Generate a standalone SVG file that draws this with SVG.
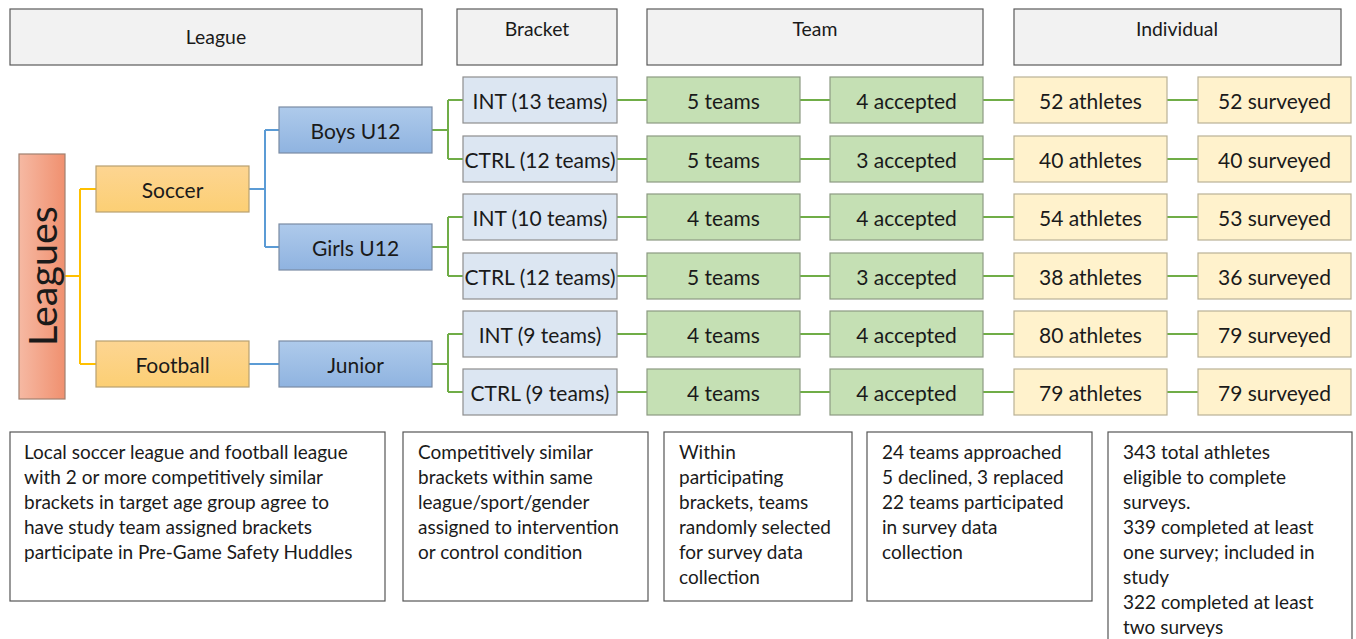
<svg xmlns="http://www.w3.org/2000/svg" width="1356" height="639" viewBox="0 0 1356 639">
  <defs>
    <linearGradient id="gLeagues" x1="0" y1="0" x2="1" y2="0">
      <stop offset="0" stop-color="#f6b9a3"/>
      <stop offset="1" stop-color="#f0906f"/>
    </linearGradient>
    <linearGradient id="gSport" x1="0" y1="0" x2="0" y2="1">
      <stop offset="0" stop-color="#fdd592"/>
      <stop offset="1" stop-color="#fccf74"/>
    </linearGradient>
    <linearGradient id="gDiv" x1="0" y1="0" x2="0" y2="1">
      <stop offset="0" stop-color="#aecaeb"/>
      <stop offset="1" stop-color="#8fb3e0"/>
    </linearGradient>
    <style>
      text { font-family: Lato, "Liberation Sans", sans-serif; fill: #1a1a1a; }
      .hdr rect { fill: #f2f2f2; stroke: #5a5a5a; stroke-width: 1.2; }
      .hdr text { font-size: 19.4px; text-anchor: middle; }
      .n text { font-size: 21px; text-anchor: middle; dominant-baseline: central; }
      .sport { fill: url(#gSport); stroke: #b8a070; stroke-width: 1.2; }
      .div { fill: url(#gDiv); stroke: #7a8ba3; stroke-width: 1.2; }
      .brk { fill: #dce6f2; stroke: #8e8e8e; stroke-width: 1.2; }
      .team { fill: #c5e0b4; stroke: #8c9a82; stroke-width: 1.2; }
      .ind { fill: #fff2cc; stroke: #b9b196; stroke-width: 1.2; }
      .note rect { fill: #ffffff; stroke: #555555; stroke-width: 1.2; }
      .note text { font-size: 19px; }
      .cY { stroke: #ffc000; stroke-width: 2; fill: none; }
      .cB { stroke: #5b9bd5; stroke-width: 2; fill: none; }
      .cG { stroke: #70ad47; stroke-width: 2; fill: none; }
    </style>
  </defs>

  <rect width="1356" height="639" fill="#ffffff"/>

  <!-- column headers -->
  <g id="hdr-league" class="hdr"><rect x="10" y="9" width="412" height="56"/><text x="216" y="44">League</text></g>
  <g id="hdr-bracket" class="hdr"><rect x="457" y="9" width="160" height="56"/><text x="537" y="36">Bracket</text></g>
  <g id="hdr-team" class="hdr"><rect x="647" y="9" width="336" height="56"/><text x="815" y="36">Team</text></g>
  <g id="hdr-individual" class="hdr"><rect x="1014" y="9" width="327" height="56"/><text x="1177" y="36">Individual</text></g>

  <!-- connectors -->
  <g id="connectors">
    <path class="cY" d="M65 276 H80 M80 189 V364 M80 189 H96 M80 364 H96"/>
    <path class="cB" d="M249 189 H265 M265 130 V247 M265 130 H279 M265 247 H279 M249 364 H279"/>
    <path class="cG" d="M432 130 H448 M448 100 V159 M448 100 H463 M448 159 H463"/>
    <path class="cG" d="M432 247 H448 M448 217 V276 M448 217 H463 M448 276 H463"/>
    <path class="cG" d="M432 364 H448 M448 334 V392 M448 334 H463 M448 392 H463"/>
    <path class="cG" d="M617 100 H647 M800 100 H830 M983 100 H1014 M1167 100 H1198"/>
    <path class="cG" d="M617 159 H647 M800 159 H830 M983 159 H1014 M1167 159 H1198"/>
    <path class="cG" d="M617 217 H647 M800 217 H830 M983 217 H1014 M1167 217 H1198"/>
    <path class="cG" d="M617 276 H647 M800 276 H830 M983 276 H1014 M1167 276 H1198"/>
    <path class="cG" d="M617 334 H647 M800 334 H830 M983 334 H1014 M1167 334 H1198"/>
    <path class="cG" d="M617 392 H647 M800 392 H830 M983 392 H1014 M1167 392 H1198"/>
  </g>

  <!-- root -->
  <g id="leagues">
    <rect x="19" y="154" width="46" height="245" fill="url(#gLeagues)" stroke="#a08070" stroke-width="1.2"/>
    <text x="41" y="276" transform="rotate(-90 41 276)" font-size="39.5" text-anchor="middle" dominant-baseline="central">Leagues</text>
  </g>

  <!-- sports -->
  <g id="soccer" class="n"><rect class="sport" x="96" y="166" width="153" height="46"/><text x="172.5" y="189">Soccer</text></g>
  <g id="football" class="n"><rect class="sport" x="96" y="341" width="153" height="46"/><text x="172.5" y="364">Football</text></g>

  <!-- divisions -->
  <g id="boys-u12" class="n"><rect class="div" x="279" y="107" width="153" height="46"/><text x="355.5" y="130">Boys U12</text></g>
  <g id="girls-u12" class="n"><rect class="div" x="279" y="224" width="153" height="46"/><text x="355.5" y="247">Girls U12</text></g>
  <g id="junior" class="n"><rect class="div" x="279" y="341" width="153" height="46"/><text x="355.5" y="364">Junior</text></g>

  <!-- brackets -->
  <g id="b1" class="n"><rect class="brk" x="463" y="77" width="154" height="46"/><text x="540" y="100">INT (13 teams)</text></g>
  <g id="b2" class="n"><rect class="brk" x="463" y="136" width="154" height="46"/><text x="540" y="159">CTRL (12 teams)</text></g>
  <g id="b3" class="n"><rect class="brk" x="463" y="194" width="154" height="46"/><text x="540" y="217">INT (10 teams)</text></g>
  <g id="b4" class="n"><rect class="brk" x="463" y="253" width="154" height="46"/><text x="540" y="276">CTRL (12 teams)</text></g>
  <g id="b5" class="n"><rect class="brk" x="463" y="311" width="154" height="46"/><text x="540" y="334">INT (9 teams)</text></g>
  <g id="b6" class="n"><rect class="brk" x="463" y="369" width="154" height="46"/><text x="540" y="392">CTRL (9 teams)</text></g>

  <!-- teams selected -->
  <g id="t1" class="n"><rect class="team" x="647" y="77" width="153" height="46"/><text x="723.5" y="100">5 teams</text></g>
  <g id="t2" class="n"><rect class="team" x="647" y="136" width="153" height="46"/><text x="723.5" y="159">5 teams</text></g>
  <g id="t3" class="n"><rect class="team" x="647" y="194" width="153" height="46"/><text x="723.5" y="217">4 teams</text></g>
  <g id="t4" class="n"><rect class="team" x="647" y="253" width="153" height="46"/><text x="723.5" y="276">5 teams</text></g>
  <g id="t5" class="n"><rect class="team" x="647" y="311" width="153" height="46"/><text x="723.5" y="334">4 teams</text></g>
  <g id="t6" class="n"><rect class="team" x="647" y="369" width="153" height="46"/><text x="723.5" y="392">4 teams</text></g>

  <!-- teams accepted -->
  <g id="a1" class="n"><rect class="team" x="830" y="77" width="153" height="46"/><text x="906.5" y="100">4 accepted</text></g>
  <g id="a2" class="n"><rect class="team" x="830" y="136" width="153" height="46"/><text x="906.5" y="159">3 accepted</text></g>
  <g id="a3" class="n"><rect class="team" x="830" y="194" width="153" height="46"/><text x="906.5" y="217">4 accepted</text></g>
  <g id="a4" class="n"><rect class="team" x="830" y="253" width="153" height="46"/><text x="906.5" y="276">3 accepted</text></g>
  <g id="a5" class="n"><rect class="team" x="830" y="311" width="153" height="46"/><text x="906.5" y="334">4 accepted</text></g>
  <g id="a6" class="n"><rect class="team" x="830" y="369" width="153" height="46"/><text x="906.5" y="392">4 accepted</text></g>

  <!-- athletes -->
  <g id="p1" class="n"><rect class="ind" x="1014" y="77" width="153" height="46"/><text x="1090.5" y="100">52 athletes</text></g>
  <g id="p2" class="n"><rect class="ind" x="1014" y="136" width="153" height="46"/><text x="1090.5" y="159">40 athletes</text></g>
  <g id="p3" class="n"><rect class="ind" x="1014" y="194" width="153" height="46"/><text x="1090.5" y="217">54 athletes</text></g>
  <g id="p4" class="n"><rect class="ind" x="1014" y="253" width="153" height="46"/><text x="1090.5" y="276">38 athletes</text></g>
  <g id="p5" class="n"><rect class="ind" x="1014" y="311" width="153" height="46"/><text x="1090.5" y="334">80 athletes</text></g>
  <g id="p6" class="n"><rect class="ind" x="1014" y="369" width="153" height="46"/><text x="1090.5" y="392">79 athletes</text></g>

  <!-- surveyed -->
  <g id="s1" class="n"><rect class="ind" x="1198" y="77" width="153" height="46"/><text x="1274.5" y="100">52 surveyed</text></g>
  <g id="s2" class="n"><rect class="ind" x="1198" y="136" width="153" height="46"/><text x="1274.5" y="159">40 surveyed</text></g>
  <g id="s3" class="n"><rect class="ind" x="1198" y="194" width="153" height="46"/><text x="1274.5" y="217">53 surveyed</text></g>
  <g id="s4" class="n"><rect class="ind" x="1198" y="253" width="153" height="46"/><text x="1274.5" y="276">36 surveyed</text></g>
  <g id="s5" class="n"><rect class="ind" x="1198" y="311" width="153" height="46"/><text x="1274.5" y="334">79 surveyed</text></g>
  <g id="s6" class="n"><rect class="ind" x="1198" y="369" width="153" height="46"/><text x="1274.5" y="392">79 surveyed</text></g>

  <!-- description boxes -->
  <g id="note-league" class="note">
    <rect x="10" y="432" width="375" height="169"/>
    <text x="24" y="459">
      <tspan x="24">Local soccer league and football league</tspan>
      <tspan x="24" dy="25">with 2 or more competitively similar</tspan>
      <tspan x="24" dy="25">brackets in target age group agree to</tspan>
      <tspan x="24" dy="25">have study team assigned brackets</tspan>
      <tspan x="24" dy="25">participate in Pre-Game Safety Huddles</tspan>
    </text>
  </g>
  <g id="note-bracket" class="note">
    <rect x="403" y="432" width="245" height="169"/>
    <text x="418" y="459">
      <tspan x="418">Competitively similar</tspan>
      <tspan x="418" dy="25">brackets within same</tspan>
      <tspan x="418" dy="25">league/sport/gender</tspan>
      <tspan x="418" dy="25">assigned to intervention</tspan>
      <tspan x="418" dy="25">or control condition</tspan>
    </text>
  </g>
  <g id="note-team-select" class="note">
    <rect x="664" y="432" width="188" height="169"/>
    <text x="679" y="459">
      <tspan x="679">Within</tspan>
      <tspan x="679" dy="25">participating</tspan>
      <tspan x="679" dy="25">brackets, teams</tspan>
      <tspan x="679" dy="25">randomly selected</tspan>
      <tspan x="679" dy="25">for survey data</tspan>
      <tspan x="679" dy="25">collection</tspan>
    </text>
  </g>
  <g id="note-team-accept" class="note">
    <rect x="867" y="432" width="225" height="169"/>
    <text x="882" y="459">
      <tspan x="882">24 teams approached</tspan>
      <tspan x="882" dy="25">5 declined, 3 replaced</tspan>
      <tspan x="882" dy="25">22 teams participated</tspan>
      <tspan x="882" dy="25">in survey data</tspan>
      <tspan x="882" dy="25">collection</tspan>
    </text>
  </g>
  <g id="note-individual" class="note">
    <rect x="1108" y="432" width="244" height="220"/>
    <text x="1123" y="459">
      <tspan x="1123">343 total athletes</tspan>
      <tspan x="1123" dy="25">eligible to complete</tspan>
      <tspan x="1123" dy="25">surveys.</tspan>
      <tspan x="1123" dy="25">339 completed at least</tspan>
      <tspan x="1123" dy="25">one survey; included in</tspan>
      <tspan x="1123" dy="25">study</tspan>
      <tspan x="1123" dy="25">322 completed at least</tspan>
      <tspan x="1123" dy="25">two surveys</tspan>
    </text>
  </g>
</svg>
